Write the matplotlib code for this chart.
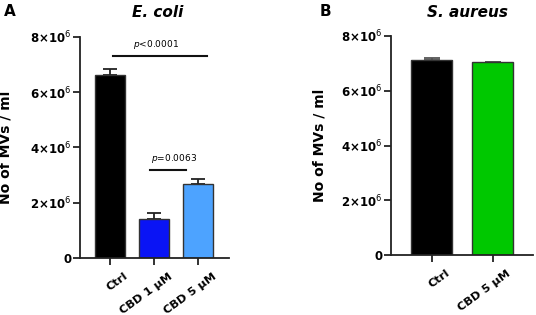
# Bar charts: MV counts for E. coli and S. aureus with CBD treatment
import matplotlib
matplotlib.use("Agg")
import matplotlib.pyplot as plt
from matplotlib.ticker import FixedLocator
from matplotlib.transforms import offset_copy

# E. coli data
ecoli_groups = ["Ctrl", "CBD 1 µM", "CBD 5 µM"]
ecoli_means = [6.63e6, 1.42e6, 2.69e6]
ecoli_err = [0.2e6, 0.22e6, 0.15e6]
ecoli_colors = ["#000000", "#0a14f5", "#4da3ff"]

# S. aureus data
saureus_groups = ["Ctrl", "CBD 5 µM"]
saureus_means = [7.12e6, 7.06e6]
saureus_err = [0.08e6, 0.0]
saureus_colors = ["#000000", "#00c800"]

yticks = [0, 2e6, 4e6, 6e6, 8e6]
ytick_labels = ["0", r"2×10$^{6}$", r"4×10$^{6}$", r"6×10$^{6}$", r"8×10$^{6}$"]

fig = plt.figure(figsize=(5.36, 3.15), dpi=100)
axA = fig.add_axes([0.149, 0.181, 0.278, 0.702])
axB = fig.add_axes([0.729, 0.190, 0.265, 0.696])


def style_axis(ax, groups, xlim):
    ax.set_ylim(0, 8e6)
    ax.set_xlim(*xlim)
    ax.yaxis.set_major_locator(FixedLocator(yticks))
    ax.set_yticklabels(ytick_labels, fontsize=8.5, fontweight="bold")
    ax.set_xticks(range(len(groups)))
    ax.set_xticklabels([])
    # rotated category labels, shifted like the original layout
    trans = offset_copy(ax.get_xaxis_transform(), fig=fig, x=17, y=-17, units="dots")
    for i, g in enumerate(groups):
        ax.text(i, 0, g, transform=trans, rotation=36, ha="right", va="center",
                rotation_mode="anchor", fontsize=8.2, fontweight="bold")
    for s in ["top", "right"]:
        ax.spines[s].set_visible(False)
    for s in ["left", "bottom"]:
        ax.spines[s].set_linewidth(1.3)
        ax.spines[s].set_color("#222222")
    ax.tick_params(width=1.3, length=5, color="#222222", pad=1)
    ax.set_ylabel("No of MVs / ml", fontsize=10, fontweight="bold")


x = range(len(ecoli_groups))
axA.bar(x, ecoli_means, width=0.68, color=ecoli_colors, edgecolor="#333333",
        linewidth=1.0, zorder=2)
axA.errorbar(x, ecoli_means, yerr=[[0] * 3, ecoli_err], fmt="none",
             ecolor="#222222", elinewidth=1.3, capsize=5, capthick=1.3, zorder=1)
style_axis(axA, ecoli_groups, (-0.68, 2.7))
axA.yaxis.set_label_coords(-0.45, 0.5)

# significance bars
axA.plot([0.07, 2.2], [7.3e6, 7.3e6], color="#111111", lw=1.5, clip_on=False)
axA.text(1.05, 7.5e6, r"$\it{p}$<0.0001", ha="center", va="bottom", fontsize=6.5)
axA.plot([0.9, 1.72], [3.2e6, 3.2e6], color="#111111", lw=1.5)
axA.text(1.45, 3.38e6, r"$\it{p}$=0.0063", ha="center", va="bottom", fontsize=6.5)

xb = range(len(saureus_groups))
axB.bar(xb, saureus_means, width=0.66, color=saureus_colors, edgecolor="#333333",
        linewidth=1.0, zorder=2)
axB.errorbar(xb, saureus_means, yerr=[[0] * 2, saureus_err], fmt="none",
             ecolor="#555555", elinewidth=1.3, capsize=6, capthick=1.3, zorder=1)
style_axis(axB, saureus_groups, (-0.67, 1.66))
axB.yaxis.set_label_coords(-0.45, 0.5)

fig.text(0.295, 0.96, "E. coli", ha="center", va="center", fontsize=11,
         fontweight="bold", style="italic")
fig.text(0.872, 0.96, "S. aureus", ha="center", va="center", fontsize=11,
         fontweight="bold", style="italic")
fig.text(0.018, 0.962, "A", ha="center", va="center", fontsize=11, fontweight="bold")
fig.text(0.607, 0.965, "B", ha="center", va="center", fontsize=11, fontweight="bold")

fig.savefig("out.png", dpi=100)
